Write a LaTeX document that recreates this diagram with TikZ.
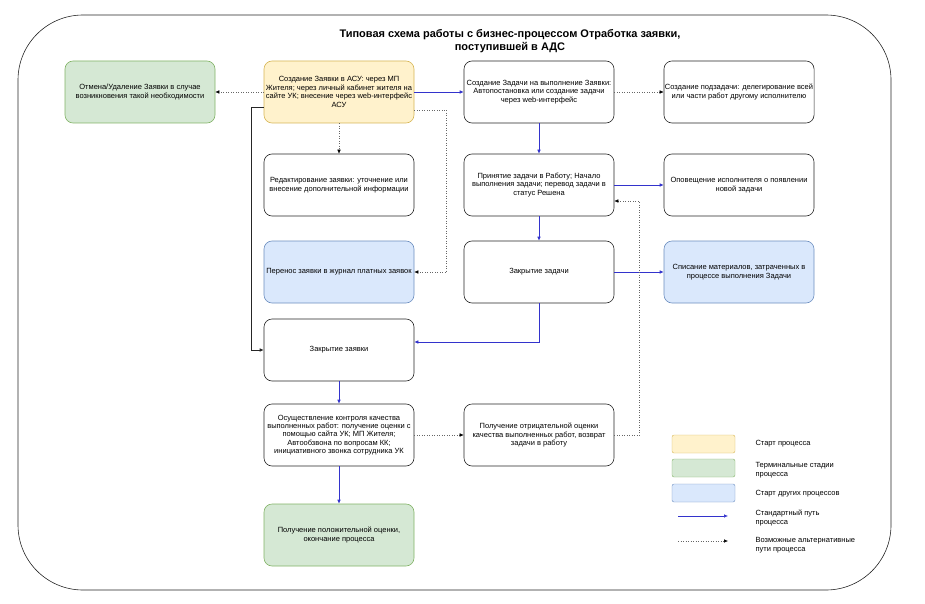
\documentclass[tikz,border=0pt]{standalone}
\usepackage{fontspec}
\setmainfont{Liberation Sans}
\usetikzlibrary{arrows.meta}

\definecolor{startfill}{HTML}{FFF2CC}
\definecolor{startline}{HTML}{D6B656}
\definecolor{termfill}{HTML}{D5E8D4}
\definecolor{termline}{HTML}{82B366}
\definecolor{otherfill}{HTML}{DAE8FC}
\definecolor{otherline}{HTML}{6C8EBF}
\definecolor{pathblue}{HTML}{3333CC}

\tikzset{
  stage/.style={draw=black!85, line width=0.6pt, rounded corners=8pt,
    minimum width=150pt, minimum height=62pt, align=center,
    font=\fontsize{7.5}{8.4}\selectfont, inner sep=1pt},
  startstage/.style={stage, draw=startline, fill=startfill},
  termstage/.style={stage, draw=termline, fill=termfill},
  otherstage/.style={stage, draw=otherline, fill=otherfill},
  mainpath/.style={draw=pathblue, line width=0.6pt, -{Latex[length=4pt,width=3.5pt]}},
  altpath/.style={draw=black!60, dotted, line width=0.5pt, -{Latex[length=4pt,width=3.5pt,black]}},
  keybox/.style={draw=#1line, fill=#1fill, rounded corners=2pt, minimum width=63pt, minimum height=18pt},
  keytext/.style={anchor=west, align=left, font=\fontsize{7.5}{8.6}\selectfont}
}

\begin{document}
\begin{tikzpicture}[x=1pt, y=-1pt]
    \useasboundingbox (0,0) rectangle (925,604);

    % Draw the outer frame
    \draw[black!85, line width=0.6pt, rounded corners=65pt] (18,15) rectangle (891,590);

    % Title
    \node[align=center, font=\bfseries\fontsize{11}{12.5}\selectfont] (title) at (510,41)
        {Типовая схема работы с бизнес-процессом Отработка заявки,\\поступившей в АДС};

    % Stages of the process
    \node[termstage] (cancel) at (140,92) {Отмена/Удаление Заявки в случае\\возникновения такой необходимости};
    \node[startstage] (create) at (339,92) {Создание Заявки в АСУ: через МП\\Жителя; через личный кабинет жителя на\\сайте УК; внесение через web-интерфейс\\АСУ};
    \node[stage] (task) at (539,92) {Создание Задачи на выполнение Заявки:\\Автопостановка или создание задачи\\через web-интерфейс};
    \node[stage] (subtask) at (739,92) {Создание подзадачи: делегирование всей\\или части работ другому исполнителю};

    \node[stage] (edit) at (339,185) {Редактирование заявки: уточнение или\\внесение дополнительной информации};
    \node[stage] (accept) at (539,185) {Принятие задачи в Работу; Начало\\выполнения задачи; перевод задачи в\\статус Решена};
    \node[stage] (notify) at (739,185) {Оповещение исполнителя о появлении\\новой задачи};

    \node[otherstage] (transfer) at (339,272) {Перенос заявки в журнал платных заявок};
    \node[stage] (closetask) at (539,272) {Закрытие задачи};
    \node[otherstage] (materials) at (739,272) {Списание материалов, затраченных в\\процессе выполнения Задачи};

    \node[stage] (closereq) at (339,350) {Закрытие заявки};

    \node[stage] (control) at (339,435) {Осуществление контроля качества\\выполненных работ: получение оценки с\\помощью сайта УК; МП Жителя;\\Автообзвона по вопросам КК;\\инициативного звонка сотрудника УК};
    \node[stage] (negative) at (539,435) {Получение отрицательной оценки\\качества выполненных работ, возврат\\задачи в работу};

    \node[termstage] (positive) at (339,535) {Получение положительной оценки,\\окончание процесса};

    % Standard path
    \draw[mainpath] (create) -- (task);
    \draw[mainpath] (task) -- (accept);
    \draw[mainpath] (accept) -- (notify);
    \draw[mainpath] (accept) -- (closetask);
    \draw[mainpath] (closetask) -- (materials);
    \draw[mainpath] (closetask.south) |- ([yshift=8pt]closereq.east);
    \draw[mainpath] (closereq) -- (control);
    \draw[mainpath] (control) -- (positive);

    % Alternative paths
    \draw[altpath] (create) -- (cancel);
    \draw[altpath] (task) -- (subtask);
    \draw[altpath] (create) -- (edit);
    \draw[altpath] ([yshift=-18pt]create.east) -- ++(32pt,0) |- (transfer.east);
    \draw[altpath] (control) -- (negative);
    \draw[altpath] (negative.east) -- ++(25pt,0) |- ([yshift=-16pt]accept.east);
    \draw[black!85, line width=0.6pt, -{Latex[length=4pt,width=3.5pt]}]
        ([yshift=-15pt]create.west) -- ++(-12pt,0) |- (closereq.west);

    % Legend
    \node[keybox=start] (keystart) at (703.5,444) {};
    \node[keybox=term] (keyterm) at (703.5,468) {};
    \node[keybox=other] (keyother) at (703.5,493) {};
    \coordinate (mainfrom) at (678,516);
    \coordinate (mainto) at (728,516);
    \coordinate (altfrom) at (678,541);
    \coordinate (altto) at (728,541);
    \draw[mainpath] (mainfrom) -- (mainto);
    \draw[altpath] (altfrom) -- (altto);

    \node[keytext] (txtstart) at (752,444) {Старт процесса};
    \node[keytext] (txtterm) at (752,470) {Терминальные стадии\\процесса};
    \node[keytext] (txtother) at (752,494) {Старт других процессов};
    \node[keytext] (txtmain) at (752,518) {Стандартный путь\\процесса};
    \node[keytext] (txtalt) at (752,545) {Возможные альтернативные\\пути процесса};
\end{tikzpicture}
\end{document}
